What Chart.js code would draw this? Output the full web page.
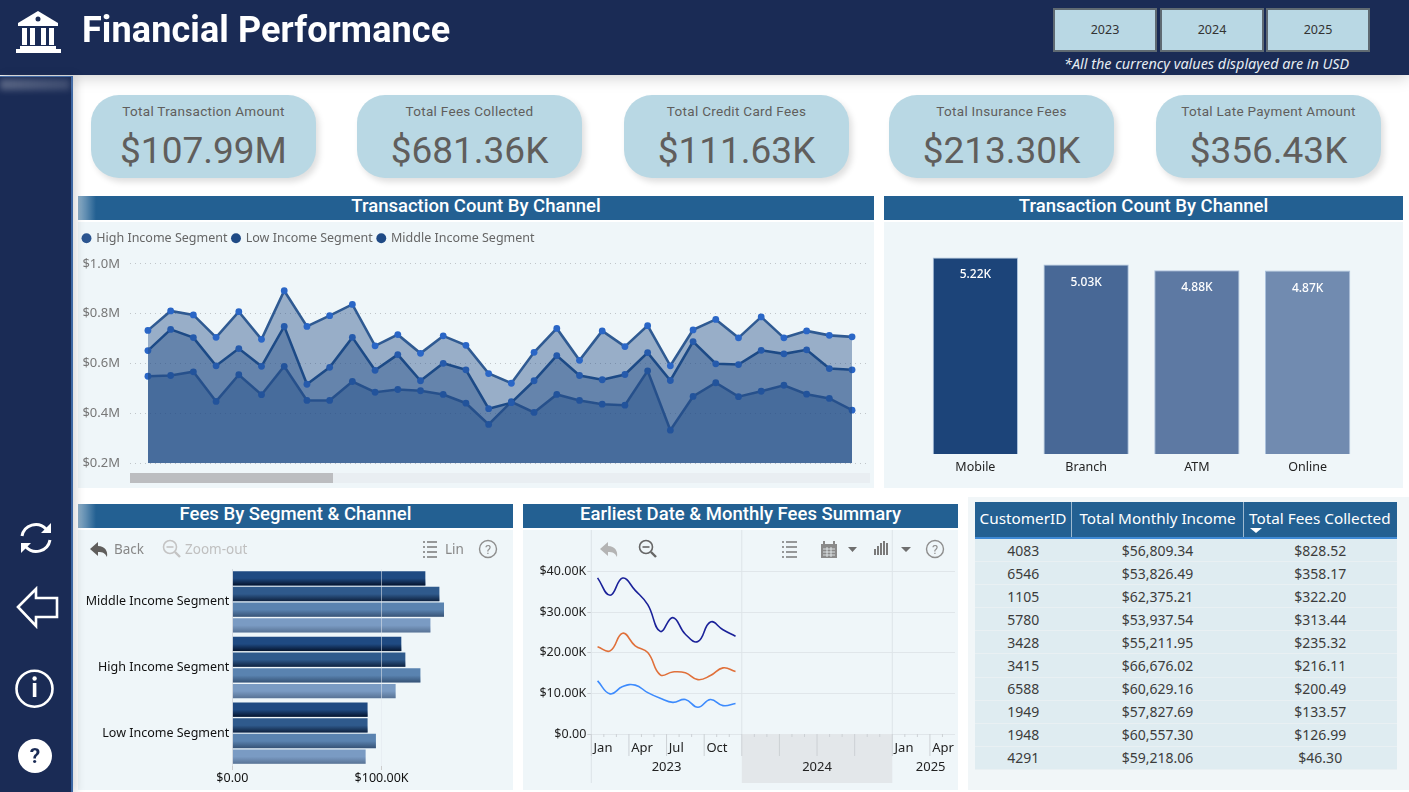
<!DOCTYPE html>
<html>
<head>
<meta charset="utf-8">
<title>Financial Performance</title>
<script src="https://cdn.jsdelivr.net/npm/chart.js@4"></script>
<style>
  html, body { margin: 0; padding: 0; background: #fff; }
  #page { position: relative; width: 1409px; height: 792px; overflow: hidden; background: #fff; font-family: "Noto Sans", sans-serif; }
  #page > * { position: absolute; }
  #topbar { left: 0; top: 0; width: 1409px; height: 75px; background: #1a2b55; box-shadow: 0 3px 14px rgba(0,0,0,.18); z-index: 3; }
  #sidebar { left: 0; top: 76px; width: 71px; height: 716px; background: #1a2b55; border-right: 2px solid #3d67a3; border-top: 1px solid #3d67a3; box-shadow: 3px 0 9px rgba(0,0,0,.16); z-index: 3; }
  #sideglow { left: 0; top: 79px; width: 70px; height: 11px; background: linear-gradient(90deg, rgba(255,255,255,.28), rgba(255,255,255,.16)); filter: blur(3px); z-index: 4; }
  #brand { left: 82px; top: 9px; font: 700 36px Roboto, sans-serif; letter-spacing: .1px; color: #fff; z-index: 4; white-space: nowrap; }
  .yearbtn { top: 8px; width: 100px; height: 40px; line-height: 40px; border: 2px solid #5f6a72; background: #b9d8e4; color: #333; font-size: 12.5px; text-align: center; z-index: 4; }
  #usdnote { left: 1064px; top: 54px; font: italic 14.4px "Noto Sans", sans-serif; color: #e6edf2; z-index: 4; white-space: nowrap; }
  .kpi { top: 95px; width: 225px; height: 83px; border-radius: 28px; background: #b9d8e4; box-shadow: 3px 4px 6px rgba(0,0,0,.13); color: #605e5c; text-align: center; }
  .kpi .name { position: absolute; left: 0; right: 0; top: 8px; font: 400 13.5px Roboto, sans-serif; letter-spacing: .3px; }
  .kpi .num { position: absolute; left: 0; right: 0; top: 34px; font: 400 37px Roboto, sans-serif; }
  .titlebar { height: 24px; background: #236092; color: #fff; text-align: center; font: 500 18.5px/21px Roboto, sans-serif; }
  .fadeleft { background: linear-gradient(90deg, #8fb0c9 0, #236092 18px); }
  .panel { background: #eff6f9; }
  canvas { position: absolute; }
  #scrolltrack { left: 130px; top: 473px; width: 740px; height: 10px; background: #e9eef2; }
  #scrollthumb { left: 130px; top: 473px; width: 203px; height: 10px; background: #bcbdc0; }
  .tool { font-size: 13.5px; white-space: nowrap; }
  #grid { left: 968px; top: 497px; width: 441px; height: 293px; background: #f1f6f8; }
  #fees { left: 975px; top: 502px; width: 422px; border-collapse: collapse; table-layout: fixed; font-size: 14px; color: #3c3c3c; }
  #fees th { height: 32px; padding: 0 0 3px 0; background: #236092; color: #fff; font-weight: 400; font-size: 15.3px; border-bottom: 2px solid #3f8ad6; border-left: 1px solid #9db9d0; white-space: nowrap; position: relative; }
  #fees th:first-child { border-left: 0; }
  #fees td { height: 22.1px; padding: 0; background: #dfecf1; text-align: center; border-bottom: 1px solid #e9f0f3; }
  #sortmark { position: absolute; left: 6px; bottom: 4px; width: 0; height: 0; border-left: 6px solid transparent; border-right: 6px solid transparent; border-top: 5px solid #fff; }
</style>
</head>
<body>
<div id="page">
  <div id="topbar"></div>
  <div id="sidebar"></div>
  <div id="sideglow"></div>

  <svg style="left:0;top:0;z-index:4" width="72" height="75" fill="#fff">
    <path d="M38 11 L58 23 V26 H18 V23 Z"/>
    <circle cx="38" cy="19" r="2.5" fill="#1a2b55"/>
    <rect x="22" y="28" width="5" height="17"/><rect x="30" y="28" width="5" height="17"/>
    <rect x="41" y="28" width="5" height="17"/><rect x="49" y="28" width="5" height="17"/>
    <rect x="20" y="46" width="36" height="3"/><rect x="16" y="49" width="45" height="4"/>
  </svg>
  <div id="brand">Financial Performance</div>
  <div class="yearbtn" style="left:1053px">2023</div>
  <div class="yearbtn" style="left:1160px">2024</div>
  <div class="yearbtn" style="left:1266px">2025</div>
  <div id="usdnote">*All the currency values displayed are in USD</div>

  <svg style="left:0;top:500px;z-index:5" width="72" height="292" fill="none" stroke="#fff" stroke-width="3">
    <path d="M22 36 A14 14 0 0 1 46 29"/><path d="M50 40 A14 14 0 0 1 26 47"/>
    <path d="M51 23 V33 H41 Z" fill="#fff" stroke="none"/>
    <path d="M21 53 V43 H31 Z" fill="#fff" stroke="none"/>
    <path d="M18 107 L36 89 V98 H57 V117 H36 V126 Z" stroke-width="2.6"/>
    <circle cx="34.5" cy="188.7" r="18" stroke-width="2.6"/>
    <rect x="32.8" y="183" width="3.6" height="14" fill="#fff" stroke="none"/>
    <circle cx="34.6" cy="178.5" r="2.2" fill="#fff" stroke="none"/>
    <circle cx="35" cy="256" r="17" fill="#fff" stroke="none"/>
    <text x="35" y="263" text-anchor="middle" font-family="Roboto" font-weight="700" font-size="21" fill="#1a2b55" stroke="none">?</text>
  </svg>

  <div class="titlebar fadeleft" style="left:78px;top:196px;width:796px">Transaction Count By Channel</div>
  <div class="panel" style="left:78px;top:222px;width:796px;height:266px"></div>
  <div id="scrolltrack"></div><div id="scrollthumb"></div>
  <canvas id="areaChart" width="796" height="266" style="left:78px;top:222px"></canvas>

  <div class="titlebar" style="left:884px;top:196px;width:519px">Transaction Count By Channel</div>
  <div class="panel" style="left:884px;top:222px;width:519px;height:266px"></div>
  <canvas id="channelChart" width="519" height="266" style="left:884px;top:222px"></canvas>

  <div class="titlebar fadeleft" style="left:78px;top:504px;width:435px">Fees By Segment &amp; Channel</div>
  <div class="panel" style="left:78px;top:530px;width:435px;height:260px"></div>
  <canvas id="segmentChart" width="435" height="260" style="left:78px;top:530px"></canvas>
  <svg style="left:78px;top:530px" width="435" height="40" fill="none">
    <path d="M12 19 L20 12 V16 C27 16 30 21 29 27 C27 23 25 22 20 22 V26 Z" fill="#605e5c"/>
    <circle cx="92" cy="17" r="6.5" stroke="#c4c4c4" stroke-width="1.6"/><path d="M88.5 17 H95.5" stroke="#c4c4c4" stroke-width="1.6"/><path d="M97 22 L102 27" stroke="#c4c4c4" stroke-width="2.4"/>
    <path d="M345 12 H347 M349 12 H359 M345 17 H347 M349 17 H359 M345 22 H347 M349 22 H359 M345 27 H347 M349 27 H359" stroke="#7a7a7a" stroke-width="1.3"/>
    <circle cx="410" cy="19" r="8.5" stroke="#8e8e8e" stroke-width="1.4"/>
    <text x="410" y="24" text-anchor="middle" font-family="Roboto" font-size="13" fill="#8e8e8e">?</text>
  </svg>
  <div class="tool" style="left:114px;top:540px;color:#888">Back</div>
  <div class="tool" style="left:185px;top:540px;color:#c0c0c0">Zoom-out</div>
  <div class="tool" style="left:445px;top:540px;color:#888">Lin</div>

  <div class="titlebar" style="left:523px;top:504px;width:435px">Earliest Date &amp; Monthly Fees Summary</div>
  <div class="panel" style="left:523px;top:530px;width:435px;height:260px"></div>
  <canvas id="monthlyChart" width="435" height="258" style="left:523px;top:530px"></canvas>
  <svg style="left:523px;top:530px" width="435" height="40" fill="none">
    <path d="M77 19 L85 12 V16 C92 16 95 21 94 27 C92 23 90 22 85 22 V26 Z" fill="#b4b4b4"/>
    <circle cx="123" cy="17" r="6.5" stroke="#666" stroke-width="1.6"/><path d="M119.5 17 H126.5" stroke="#666" stroke-width="1.6"/><path d="M128 22 L133 27" stroke="#666" stroke-width="2.4"/>
    <path d="M259 12 H261 M263 12 H274 M259 17 H261 M263 17 H274 M259 22 H261 M263 22 H274 M259 27 H261 M263 27 H274" stroke="#7a7a7a" stroke-width="1.3"/>
    <rect x="298" y="14" width="16" height="14" fill="#8a8a8a"/><path d="M301 11 V16 M311 11 V16" stroke="#8a8a8a" stroke-width="2"/><path d="M300 19 H312 M300 22 H312 M300 25 H312 M304 17 V27 M308 17 V27" stroke="#eef5f8" stroke-width=".8"/>
    <path d="M325 17 H334 L329.5 22 Z M378 17 H388 L383 22 Z" fill="#6f6f6f"/>
    <path d="M352 25 V19 M355 25 V16 M358 25 V13 M361 25 V11 M364 25 V13" stroke="#7a7a7a" stroke-width="2"/>
    <circle cx="412" cy="19" r="8.5" stroke="#8e8e8e" stroke-width="1.4"/>
    <text x="412" y="24" text-anchor="middle" font-family="Roboto" font-size="13" fill="#8e8e8e">?</text>
  </svg>

  <div id="grid"></div>
  <table id="fees"></table>
</div>

<script>
// headline cards
var kpiNames = ['Total Transaction Amount', 'Total Fees Collected', 'Total Credit Card Fees', 'Total Insurance Fees', 'Total Late Payment Amount'];
var kpiValues = ['$107.99M', '$681.36K', '$111.63K', '$213.30K', '$356.43K'];
var kpiLefts = [91, 357, 624, 889, 1156];

// monthly totals per income segment, in millions
var months = ['Jan 23','Feb 23','Mar 23','Apr 23','May 23','Jun 23','Jul 23','Aug 23','Sep 23','Oct 23','Nov 23','Dec 23',
  'Jan 24','Feb 24','Mar 24','Apr 24','May 24','Jun 24','Jul 24','Aug 24','Sep 24','Oct 24','Nov 24','Dec 24',
  'Jan 25','Feb 25','Mar 25','Apr 25','May 25','Jun 25','Jul 25','Aug 25'];
var highIncome = [0.733,0.811,0.795,0.705,0.808,0.697,0.892,0.749,0.792,0.837,0.671,0.716,0.641,0.711,0.673,0.560,0.521,0.645,0.741,0.613,0.731,0.668,0.752,0.591,0.735,0.777,0.703,0.787,0.703,0.731,0.713,0.707];
var lowIncome = [0.652,0.737,0.704,0.591,0.660,0.589,0.749,0.517,0.585,0.705,0.573,0.636,0.531,0.601,0.575,0.419,0.443,0.531,0.632,0.552,0.535,0.556,0.644,0.532,0.688,0.599,0.596,0.653,0.639,0.655,0.580,0.575];
var middleIncome = [0.549,0.552,0.567,0.448,0.555,0.475,0.589,0.452,0.452,0.528,0.485,0.496,0.491,0.476,0.441,0.356,0.447,0.404,0.476,0.452,0.437,0.433,0.571,0.333,0.468,0.523,0.467,0.489,0.513,0.477,0.460,0.413];

// transaction count per channel, thousands
var channels = ['Mobile', 'Branch', 'ATM', 'Online'];
var channelCounts = [5.22, 5.03, 4.88, 4.87];

// fees per segment split by channel, thousands
var segments = ['Middle Income Segment', 'High Income Segment', 'Low Income Segment'];
var mobileFees = [129.3, 113.2, 90.6];
var branchFees = [138.7, 115.9, 90.6];
var atmFees = [141.8, 126.0, 96.2];
var onlineFees = [132.7, 109.4, 89.3];

// monthly fee lines, thousands; the source data stops after 2023
var axisMonths = ['Jan','Feb','Mar','Apr','May','Jun','Jul','Aug','Sep','Oct','Nov','Dec',
  'Jan','Feb','Mar','Apr','May','Jun','Jul','Aug','Sep','Oct','Nov','Dec',
  'Jan','Feb','Mar','Apr','May'];
var axisYears = [['2023', 0, 12], ['2024', 12, 24], ['2025', 24, 29]];
var totalFees = [38.5,34.2,38.45,35.4,31.9,25.3,28.7,24.6,22.8,27.6,25.7,24.1];
var lateFees = [21.5,20.5,24.85,21.75,20.1,14.6,15.3,15.1,13.4,14.4,16.3,15.4];
var cardFees = [13.1,9.9,11.7,12.05,10.2,8.8,7.8,8.5,6.6,8.5,7.0,7.5];

// top customers table
var customerIds = [4083,6546,1105,5780,3428,3415,6588,1949,1948,4291];
var monthlyIncome = ['$56,809.34','$53,826.49','$62,375.21','$53,937.54','$55,211.95','$66,676.02','$60,629.16','$57,827.69','$60,557.30','$59,218.06'];
var feesCollected = ['$828.52','$358.17','$322.20','$313.44','$235.32','$216.11','$200.49','$133.57','$126.99','$46.30'];

var page = document.getElementById('page');
kpiNames.forEach(function (name, i) {
    var card = document.createElement('div');
    card.className = 'kpi';
    card.style.left = kpiLefts[i] + 'px';
    card.innerHTML = '<div class="name">' + name + '</div><div class="num">' + kpiValues[i] + '</div>';
    page.appendChild(card);
});

var rows = '<tr><th style="width:96px">CustomerID</th><th style="width:171px">Total Monthly Income</th>' +
    '<th style="width:148px;text-align:left;padding-left:5px">Total Fees Collected<span id="sortmark"></span></th></tr>';
customerIds.forEach(function (id, i) {
    rows += '<tr><td>' + id + '</td><td>' + monthlyIncome[i] + '</td><td>' + feesCollected[i] + '</td></tr>';
});
document.getElementById('fees').innerHTML = rows;

Chart.defaults.animation = false;
Chart.defaults.responsive = false;
Chart.defaults.font.family = '"Noto Sans", sans-serif';
Chart.defaults.font.size = 12.5;
Chart.defaults.plugins.tooltip.enabled = false;

function xy(values) {
    return values.map(function (v, i) { return { x: i, y: v }; });
}

// leaves a gap between the legend row and the plot
var legendGap = {
    id: 'legendGap',
    beforeInit: function (chart) {
        var fit = chart.legend.fit;
        chart.legend.fit = function () {
            fit.call(this);
            this.height += 9.3;
        };
    }
};

var legendColors = ['#2b5590', '#1f4a85', '#1f4a85'];
new Chart(document.getElementById('areaChart'), {
    type: 'line',
    data: {
        labels: months,
        datasets: [
            { label: 'High Income Segment', data: xy(highIncome), borderColor: '#2f5a92' },
            { label: 'Low Income Segment', data: xy(lowIncome), borderColor: '#1b4a87' },
            { label: 'Middle Income Segment', data: xy(middleIncome), borderColor: '#365e96' }
        ].map(function (d) {
            d.fill = 'origin';
            d.backgroundColor = 'rgba(31,74,133,.42)';
            d.borderWidth = 2.6;
            d.tension = 0;
            d.pointRadius = 3.4;
            d.pointBorderWidth = 0;
            d.pointBackgroundColor = '#2a66c6';
            return d;
        })
    },
    options: {
        layout: { padding: { top: 5, bottom: 24.7 } },
        plugins: {
            legend: {
                align: 'start',
                labels: {
                    usePointStyle: true, boxWidth: 7, boxHeight: 7, padding: 5, color: '#666',
                    generateLabels: function (c) {
                        return Chart.defaults.plugins.legend.labels.generateLabels(c).map(function (l, i) {
                            l.fillStyle = legendColors[i];
                            l.strokeStyle = legendColors[i];
                            return l;
                        });
                    }
                }
            }
        },
        scales: {
            x: { type: 'linear', display: false, min: -0.79, max: 31.79 },
            y: {
                min: 0.2, max: 1.0,
                afterFit: function (s) { s.width = 52; },
                border: { display: false, dash: [1, 4] },
                grid: { color: '#bfc5c9', drawTicks: false },
                ticks: {
                    stepSize: 0.2, color: '#777', padding: 10, font: { size: 13 },
                    callback: function (v) { return '$' + v.toFixed(1) + 'M'; }
                }
            }
        }
    },
    plugins: [legendGap]
});

// value captions inside the channel columns
var columnCaptions = {
    id: 'columnCaptions',
    afterDatasetsDraw: function (chart) {
        var c = chart.ctx;
        c.save();
        c.fillStyle = '#fff';
        c.font = '500 12px "Noto Sans"';
        c.textAlign = 'center';
        chart.getDatasetMeta(0).data.forEach(function (bar, i) {
            c.fillText(channelCounts[i].toFixed(2) + 'K', bar.x, bar.y + 21);
        });
        c.restore();
    }
};

new Chart(document.getElementById('channelChart'), {
    type: 'bar',
    data: {
        labels: channels,
        datasets: [{
            data: channelCounts,
            backgroundColor: ['#1c4479', '#486896', '#5d79a3', '#718bb0'],
            borderColor: 'rgba(160,185,215,.85)',
            borderWidth: 1,
            barPercentage: 0.77,
            categoryPercentage: 1
        }]
    },
    options: {
        layout: { padding: { left: 36, right: 40, top: 6, bottom: 14 } },
        plugins: { legend: { display: false } },
        scales: {
            x: {
                afterFit: function (s) { s.height = 20; },
                border: { display: false },
                grid: { display: false, drawTicks: false },
                ticks: { color: '#222', padding: 6 }
            },
            y: { display: false, min: 0, max: 6 }
        }
    },
    plugins: [columnCaptions]
});

// darkens the lower edge of each horizontal bar
var barShade = {
    id: 'barShade',
    afterDatasetsDraw: function (chart) {
        var c = chart.ctx;
        var strength = [0.85, 0.7, 0.4, 0.28];
        chart.data.datasets.forEach(function (d, n) {
            chart.getDatasetMeta(n).data.forEach(function (bar) {
                var top = bar.y - bar.height / 2;
                var g = c.createLinearGradient(0, top, 0, top + bar.height);
                g.addColorStop(0.5, 'rgba(0,10,30,0)');
                g.addColorStop(1, 'rgba(0,10,30,' + strength[n] + ')');
                c.fillStyle = g;
                c.fillRect(bar.base, top, bar.x - bar.base, bar.height);
            });
        });
    }
};

new Chart(document.getElementById('segmentChart'), {
    type: 'bar',
    data: {
        labels: segments,
        datasets: [
            { label: 'Mobile', data: mobileFees, backgroundColor: '#1f4a82' },
            { label: 'Branch', data: branchFees, backgroundColor: '#2f5a8c' },
            { label: 'ATM', data: atmFees, backgroundColor: '#5a83b0' },
            { label: 'Online', data: onlineFees, backgroundColor: '#7a9bc3' }
        ].map(function (d) {
            d.barPercentage = 0.91;
            d.categoryPercentage = 0.955;
            return d;
        })
    },
    options: {
        indexAxis: 'y',
        layout: { padding: { top: 39, right: 3 } },
        plugins: { legend: { display: false } },
        scales: {
            x: {
                min: 0, max: 186,
                afterFit: function (s) { s.height = 24; },
                afterBuildTicks: function (s) {
                    s.ticks = s.ticks.filter(function (t) { return t.value % 100 === 0; });
                },
                border: { display: false },
                grid: { z: 1, color: 'rgba(225,232,238,.55)', tickLength: 4, tickColor: '#ccc' },
                ticks: {
                    stepSize: 100, color: '#111', padding: 1, maxRotation: 0,
                    callback: function (v) { return v === 0 ? '$0.00' : '$' + v.toFixed(2) + 'K'; }
                }
            },
            y: {
                afterFit: function (s) { s.width = 154.3; },
                border: { color: '#c8ccd0' },
                grid: { display: false, drawTicks: false },
                ticks: { color: '#111', padding: 3, autoSkip: false }
            }
        }
    },
    plugins: [barShade]
});

// year bands, quarter and month ticks under the date axis
var yearAxis = {
    id: 'yearAxis',
    beforeDatasetsDraw: function (chart) {
        var c = chart.ctx, x = chart.scales.x, a = chart.chartArea;
        var step = x.getPixelForValue(1) - x.getPixelForValue(0);
        var edge = function (i) { return x.getPixelForValue(i) - step / 2; };
        var bottom = chart.height - 5;
        c.save();
        c.fillStyle = '#e3e7ea';
        c.fillRect(edge(12), a.bottom, edge(24) - edge(12), bottom - a.bottom);
        c.strokeStyle = '#dde4e8';
        c.lineWidth = 1;
        axisYears.forEach(function (y) {
            c.beginPath();
            c.moveTo(edge(y[1]), 0);
            c.lineTo(edge(y[1]), y[1] === 0 ? bottom : a.bottom);
            c.stroke();
        });
        c.strokeStyle = '#ccd1d5';
        axisMonths.forEach(function (m, i) {
            c.beginPath();
            c.moveTo(edge(i), a.bottom);
            c.lineTo(edge(i), a.bottom + (i % 3 === 0 ? 22 : 3));
            c.stroke();
        });
        c.fillStyle = '#222';
        c.font = '13px "Noto Sans"';
        c.textAlign = 'center';
        axisYears.forEach(function (y, n) {
            var mid = (edge(y[1]) + edge(y[2])) / 2;
            c.fillText(y[0], n === 2 ? mid + 7 : mid, a.bottom + 37);
        });
        c.restore();
    }
};

new Chart(document.getElementById('monthlyChart'), {
    type: 'line',
    data: {
        labels: axisMonths,
        datasets: [
            { data: totalFees, borderColor: '#1a2199' },
            { data: lateFees, borderColor: '#e0703a' },
            { data: cardFees, borderColor: '#3d8bfd' }
        ].map(function (d) {
            d.borderWidth = 1.6;
            d.pointRadius = 0;
            d.tension = 0.45;
            return d;
        })
    },
    options: {
        layout: { padding: { right: 3 } },
        plugins: { legend: { display: false } },
        scales: {
            x: {
                offset: true,
                afterFit: function (s) { s.height = 54; },
                border: { display: false },
                grid: { display: false, drawTicks: false },
                ticks: {
                    color: '#222', autoSkip: false, maxRotation: 0, align: 'start', labelOffset: -4, padding: 6, font: { size: 13 },
                    callback: function (v, i) { return i % 3 === 0 ? axisMonths[i] : ''; }
                }
            },
            y: {
                min: 0, max: 48.2,
                afterFit: function (s) { s.width = 68.3; },
                afterBuildTicks: function (s) {
                    s.ticks = s.ticks.filter(function (t) { return t.value <= 40; });
                },
                border: { display: false },
                grid: { color: '#e0e6ea', tickColor: '#c8ccd0', tickLength: 4 },
                ticks: {
                    stepSize: 10, color: '#222', padding: 1,
                    callback: function (v) { return v === 0 ? '$0.00' : '$' + v.toFixed(2) + 'K'; }
                }
            }
        }
    },
    plugins: [yearAxis]
});
</script>
</body>
</html>
